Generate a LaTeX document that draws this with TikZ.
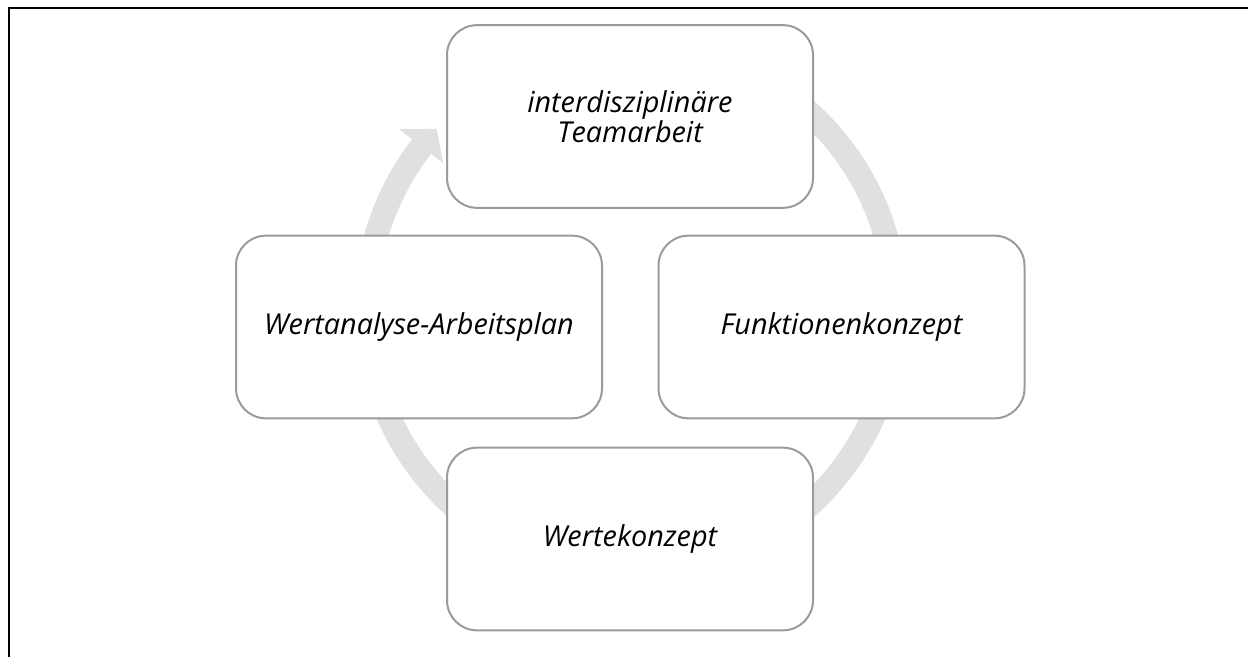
\documentclass[tikz,border=0pt]{standalone}
\usepackage{fontspec}
\setmainfont{Open Sans}
\begin{document}
\definecolor{boxline}{RGB}{155,155,155}
\definecolor{ringfill}{RGB}{224,224,224}
\begin{tikzpicture}[x=0.75pt,y=0.75pt,
  stagebox/.style={draw=boxline, line width=1.5pt, fill=white,
    rounded corners=22.5pt, minimum width=274.5pt, minimum height=137pt,
    inner sep=0pt, align=center, font=\fontsize{21.6}{22.5}\selectfont\itshape},
  frameline/.style={draw=black, line width=1.5pt}]
\useasboundingbox (0,0) rectangle (1248,657);
% frame: top and left edges only
\coordinate (fa) at (9,0);
\coordinate (fb) at (9,649);
\coordinate (fc) at (1248,649);
\draw[frameline] (fa) -- (fb) -- (fc);
% circular arrow behind the stages
\begin{scope}[shift={(631,348)}]
  \fill[ringfill] (100:277) arc[start angle=100, end angle=-217.8, radius=277]
    -- (-217.8:293.5) -- (-222.8:265) -- (-217.8:237.6) -- (-217.8:253)
    arc[start angle=-217.8, end angle=100, radius=253] -- cycle;
\end{scope}
% stages
\node[stagebox] (team) at (630,540.5) {interdisziplinäre\\Teamarbeit};
\node[stagebox] (funk) at (841.5,330) {Funktionenkonzept};
\node[stagebox] (werte) at (630,118) {Wertekonzept};
\node[stagebox] (plan) at (419,330) {Wertanalyse-Arbeitsplan};
\end{tikzpicture}
\end{document}
